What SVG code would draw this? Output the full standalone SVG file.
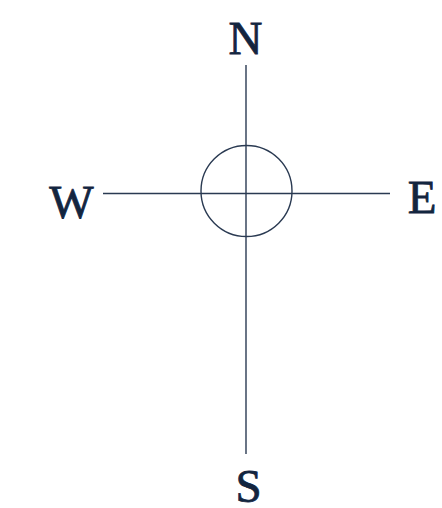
<svg xmlns="http://www.w3.org/2000/svg" width="442" height="508" viewBox="0 0 442 508">
<style>
.ln{stroke:#2a3a52;stroke-width:1.4;fill:none}
.lbl{font-family:'Liberation Serif','Times New Roman',serif;font-size:47px;fill:#13253f;stroke:#13253f;stroke-width:0.8;text-anchor:middle}
</style>
<rect width="442" height="508" fill="#ffffff"/>
<g id="connectors">
<line class="ln" x1="246" y1="65" x2="246" y2="454"/>
<line class="ln" x1="103" y1="193.5" x2="390" y2="193.5"/>
</g>
<g id="center"><circle class="ln" cx="246.5" cy="191" r="45.5"/></g>
<g id="north"><text class="lbl" x="245.5" y="54">N</text></g>
<g id="west"><text class="lbl" x="71.5" y="218">W</text></g>
<g id="east"><text class="lbl" x="422" y="213">E</text></g>
<g id="south"><text class="lbl" x="248.5" y="502">S</text></g>
</svg>
